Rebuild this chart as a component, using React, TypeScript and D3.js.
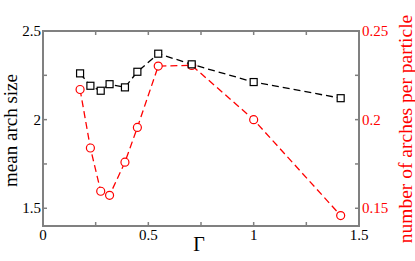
import React from "react";
import * as d3 from "d3";

// Γ values shared by both series
const gamma = [0.176, 0.225, 0.274, 0.316, 0.389, 0.448, 0.547, 0.706, 1.0, 1.413];
const meanArchSize = [2.261, 2.191, 2.163, 2.2, 2.182, 2.27, 2.372, 2.312, 2.212, 2.121];
const archesPerParticle = [0.217, 0.184, 0.1596, 0.1573, 0.176, 0.1956, 0.2302, 0.2306, 0.2, 0.1459];

const xTicks = [0, 0.5, 1, 1.5];
const xMinor = [0.25, 0.75, 1.25];
const leftTicks = [1.5, 2, 2.5];
const leftMinor = [1.75, 2.25];
const rightTicks = [0.15, 0.2, 0.25];
const rightMinor = [0.175, 0.225];

const W = 415;
const H = 261;
const m = { left: 43, right: 359, top: 31, bottom: 226 };
const axisColor = "#808080";
const font = "'Liberation Serif', 'Times New Roman', serif";

export default function App() {
  const x = d3.scaleLinear().domain([0, 1.5]).range([m.left, m.right]);
  const yL = d3.scaleLinear().domain([1.4, 2.5]).range([m.bottom, m.top]);
  const yR = d3.scaleLinear().domain([0.14, 0.25]).range([m.bottom, m.top]);

  const lineL = d3
    .line<number>()
    .x((_, i) => x(gamma[i]))
    .y((d) => yL(d));
  const lineR = d3
    .line<number>()
    .x((_, i) => x(gamma[i]))
    .y((d) => yR(d));

  const tl = 4;
  const fmt = (v: number) => String(v);

  return (
    <svg
      width={W}
      height={H}
      style={{ position: "absolute", left: 0, top: 0, background: "#fff" }}
      fontFamily={font}
    >
      {/* red series */}
      <path d={lineR(archesPerParticle) || ""} fill="none" stroke="#ff0000" strokeWidth={1.3} strokeDasharray="7,4" />
      {archesPerParticle.map((v, i) => (
        <circle key={"c" + i} cx={x(gamma[i])} cy={yR(v)} r={4} fill="#fff" stroke="#ff0000" strokeWidth={1.2} />
      ))}

      {/* black series */}
      <path d={lineL(meanArchSize) || ""} fill="none" stroke="#000" strokeWidth={1.3} strokeDasharray="7,4" />
      {meanArchSize.map((v, i) => (
        <rect
          key={"s" + i}
          x={x(gamma[i]) - 3.5}
          y={yL(v) - 3.5}
          width={7}
          height={7}
          fill="#fff"
          stroke="#000"
          strokeWidth={1.2}
        />
      ))}

      {/* frame */}
      <rect x={m.left} y={m.top} width={m.right - m.left} height={m.bottom - m.top} fill="none" stroke={axisColor} strokeWidth={2} />

      {/* x ticks */}
      {[...xTicks, ...xMinor].map((t) => (
        <g key={"xt" + t} stroke={axisColor} strokeWidth={1.5}>
          <line x1={x(t)} x2={x(t)} y1={m.bottom} y2={m.bottom - tl} />
          <line x1={x(t)} x2={x(t)} y1={m.top} y2={m.top + tl} />
        </g>
      ))}
      {xTicks.map((t) => (
        <text key={"xl" + t} x={x(t)} y={m.bottom + 14} textAnchor="middle" fontSize={15} fill="#000">
          {fmt(t)}
        </text>
      ))}

      {/* left ticks */}
      {[...leftTicks, ...leftMinor].map((t) => (
        <line key={"lt" + t} x1={m.left} x2={m.left + tl} y1={yL(t)} y2={yL(t)} stroke={axisColor} strokeWidth={1.5} />
      ))}
      {leftTicks.map((t) => (
        <text key={"ll" + t} x={m.left - 2} y={yL(t) + 5} textAnchor="end" fontSize={15} fill="#000">
          {fmt(t)}
        </text>
      ))}

      {/* right ticks */}
      {[...rightTicks, ...rightMinor].map((t) => (
        <line key={"rt" + t} x1={m.right} x2={m.right - tl} y1={yR(t)} y2={yR(t)} stroke={axisColor} strokeWidth={1.5} />
      ))}
      {rightTicks.map((t) => (
        <text key={"rl" + t} x={m.right + 3} y={yR(t) + 5} textAnchor="start" fontSize={15} fill="#ff0000">
          {fmt(t)}
        </text>
      ))}

      {/* axis titles */}
      <text x={199} y={251} textAnchor="middle" fontSize={20} fill="#000">
        Γ
      </text>
      <text
        transform={`translate(17,${(m.top + m.bottom) / 2 + 2}) rotate(-90)`}
        textAnchor="middle"
        fontSize={19}
        fill="#000"
      >
        mean arch size
      </text>
      <text
        transform={`translate(412,129) rotate(-90)`}
        textAnchor="middle"
        fontSize={19.5}
        fill="#ff0000"
      >
        number of arches per particle
      </text>
    </svg>
  );
}
